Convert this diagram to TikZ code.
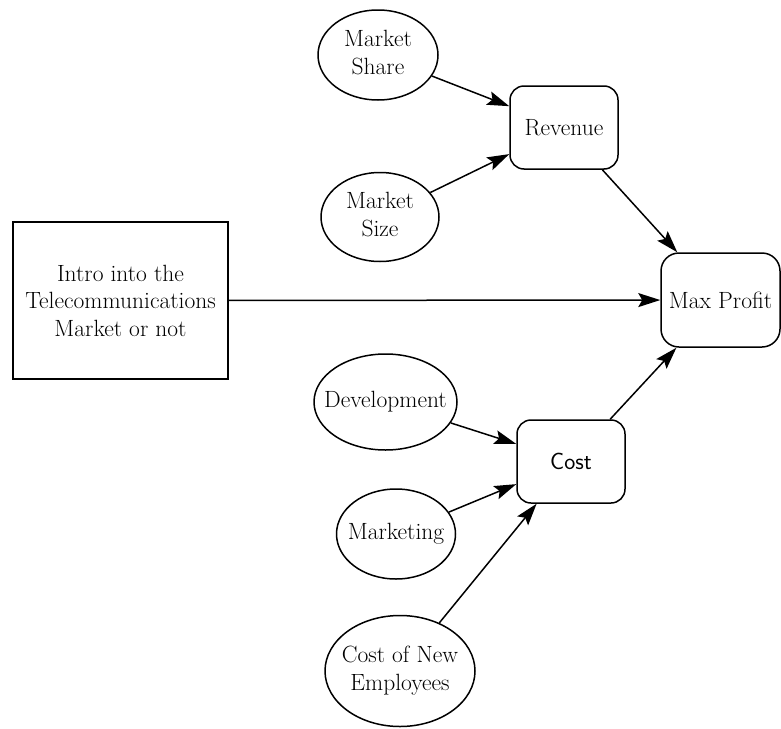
\documentclass[tikz,border=0pt]{standalone}
\usetikzlibrary{shapes.geometric,arrows.meta}

% label set in a zero-width box so the ellipse keeps its given size
\newcommand\ovaltext[1]{\makebox[0pt]{\begin{tabular}{@{}c@{}}#1\end{tabular}}}

\tikzset{
  every node/.style={font=\fontsize{23.5}{27.5}\selectfont},
  chance/.style={draw, ellipse, line width=1.5pt, inner sep=0pt, align=center},
  decision/.style={draw, rectangle, line width=1.5pt, align=center},
  value/.style={draw, rectangle, rounded corners=14pt, line width=1.5pt, align=center},
  link/.style={line width=1.5pt, -{Stealth[length=22pt,width=14pt,inset=4pt]}}
}

\begin{document}
\begin{tikzpicture}[x=1pt, y=-1pt]
  \useasboundingbox (0,0) rectangle (781,728);

  % revenue side
  \node[chance, minimum width=120pt, minimum height=90pt] (share) at (378,55) {\ovaltext{Market\\Share}};
  \node[chance, minimum width=118pt, minimum height=89pt] (size) at (380,217) {\ovaltext{Market\\Size}};
  \node[value, minimum width=108pt, minimum height=83pt] (rev) at (564,127.5) {Revenue};

  % decision and objective
  \node[decision, minimum width=215pt, minimum height=157pt] (intro) at (120.5,300.5)
       {Intro into the\\Telecommunications\\Market or not};
  \node[value, minimum width=119pt, minimum height=94pt, rounded corners=18pt] (profit) at (720.5,300) {Max Profit};

  % cost side
  \node[chance, minimum width=143pt, minimum height=96pt] (dev) at (385.5,402) {\ovaltext{Development}};
  \node[value, minimum width=108pt, minimum height=83pt] (cost) at (571,461.5) {\sffamily Cost};
  \node[chance, minimum width=119pt, minimum height=90pt] (mkt) at (396,534) {\ovaltext{Marketing}};
  \node[chance, minimum width=150pt, minimum height=111pt] (emp) at (400,671) {\ovaltext{Cost of New\\Employees}};

  % influences
  \draw[link] (share) -- (rev);
  \draw[link] (size) -- (rev);
  \draw[link] (rev) -- (profit);
  \draw[link] (intro) -- (profit);
  \draw[link] (cost) -- (profit);
  \draw[link] (dev) -- (cost);
  \draw[link] (mkt) -- (cost);
  \draw[link] (emp) -- (cost);
\end{tikzpicture}
\end{document}
